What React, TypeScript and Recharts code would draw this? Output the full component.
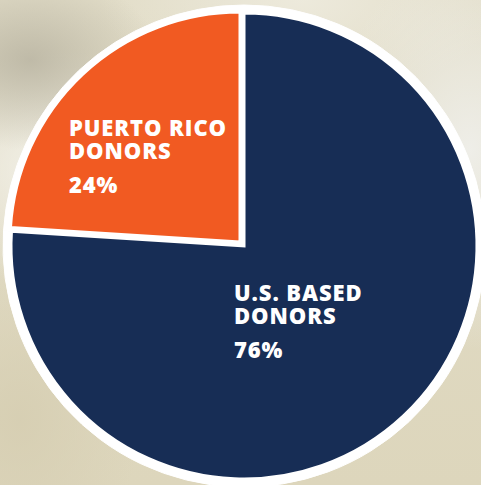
import React from "react";
import { PieChart, Pie, Cell } from "recharts";

const names = ["U.S. BASED DONORS", "PUERTO RICO DONORS"];
const shares = [76, 24];
const labelLines = [
  ["U.S. BASED", "DONORS"],
  ["PUERTO RICO", "DONORS"],
];

const data = names.map((name, i) => ({ name, value: shares[i] }));

const NAVY = "#172d55";
const ORANGE = "#f15a22";
const colors = [NAVY, ORANGE];

// where each label block starts, relative to the slice centre
const labelOffset = [
  { dx: -10, dy: 55 },
  { dx: -171, dy: -106 },
];

const W = 481;
const H = 485;

function makeLabel(only: number) {
  return (props: any) => {
    const { cx, cy, index } = props;
    if (index !== only) return null;
    const o = labelOffset[index];
    const x = cx + o.dx;
    const y = cy + o.dy;
    return (
      <text
        x={x}
        y={y}
        fill="#fff"
        fontFamily="'Open Sans', sans-serif"
        fontWeight={800}
        fontSize={22}
        letterSpacing={0.9}
        textAnchor="start"
      >
        <tspan x={x} y={y}>{labelLines[index][0]}</tspan>
        <tspan x={x} y={y + 23}>{labelLines[index][1]}</tspan>
        <tspan x={x} y={y + 57}>{`${data[index].value}%`}</tspan>
      </text>
    );
  };
}

export default function App() {
  return (
    <div
      style={{
        position: "absolute",
        left: 0,
        top: 0,
        width: W,
        height: H,
        overflow: "hidden",
        background:
          "radial-gradient(ellipse 130px 90px at 30px 60px, rgba(185,180,162,0.85), transparent), radial-gradient(ellipse 160px 120px at 60px 170px, rgba(245,244,238,0.9), transparent), radial-gradient(ellipse 140px 200px at 470px 150px, rgba(240,240,236,0.9), transparent), radial-gradient(ellipse 200px 100px at 300px 0px, rgba(238,235,222,0.9), transparent), radial-gradient(ellipse 120px 160px at 20px 420px, rgba(214,206,178,0.9), transparent), linear-gradient(180deg, #e2ddc8 0%, #ddd6bc 100%)",
      }}
    >
      <PieChart width={W} height={H} margin={{ top: 0, right: 0, bottom: 0, left: 0 }}>
        <Pie
          data={data}
          dataKey="value"
          cx={244}
          cy={246}
          outerRadius={241}
          startAngle={90}
          endAngle={-270}
          stroke="#fff"
          isAnimationActive={false}
        >
          {data.map((d, i) => (
            <Cell key={i} fill="#fff" />
          ))}
        </Pie>
        <Pie
          data={data}
          dataKey="value"
          cx={244}
          cy={246}
          outerRadius={233}
          startAngle={90}
          endAngle={-270}
          stroke="#fff"
          strokeWidth={3}
          labelLine={false}
          label={makeLabel(0)}
          isAnimationActive={false}
        >
          {data.map((d, i) => (
            <Cell key={i} fill={i === 0 ? colors[i] : "none"} stroke={i === 0 ? "#fff" : "none"} />
          ))}
        </Pie>
        <Pie
          data={data}
          dataKey="value"
          cx={240}
          cy={242}
          outerRadius={230}
          startAngle={90}
          endAngle={-270}
          stroke="#fff"
          strokeWidth={3}
          labelLine={false}
          label={makeLabel(1)}
          isAnimationActive={false}
        >
          {data.map((d, i) => (
            <Cell key={i} fill={i === 1 ? colors[i] : "none"} stroke={i === 1 ? "#fff" : "none"} />
          ))}
        </Pie>
      </PieChart>
    </div>
  );
}
